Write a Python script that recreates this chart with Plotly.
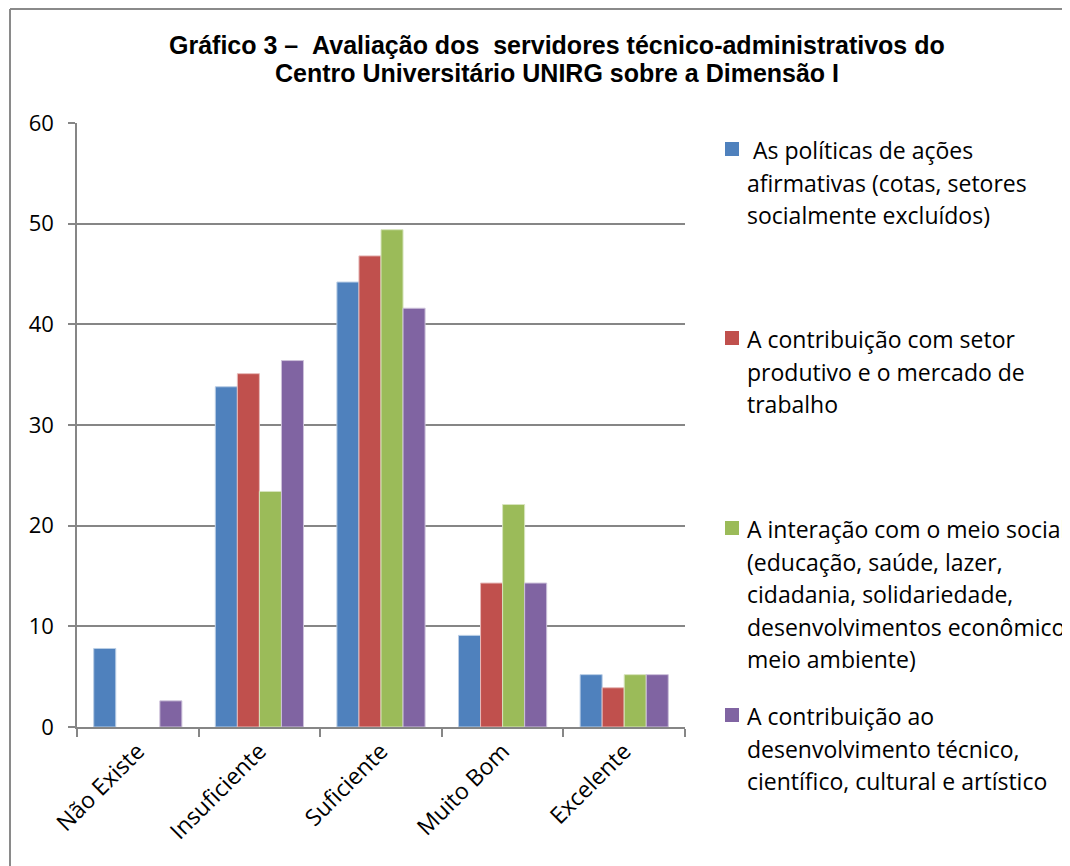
import plotly.graph_objects as go

categories = ["Não Existe", "Insuficiente", "Suficiente", "Muito Bom", "Excelente"]

series_names = [
    " As políticas de ações afirmativas (cotas, setores socialmente excluídos)",
    "A contribuição com setor produtivo e o mercado de trabalho",
    "A interação com o meio social (educação, saúde, lazer, cidadania, solidariedade, desenvolvimentos econômico, meio ambiente)",
    "A contribuição ao desenvolvimento técnico, científico, cultural e artístico",
]
legend_lines = [
    [" As políticas de ações", "afirmativas (cotas, setores", "socialmente excluídos)"],
    ["A contribuição com setor", "produtivo e o mercado de", "trabalho"],
    ["A interação com o meio social", "(educação, saúde, lazer,", "cidadania, solidariedade,",
     "desenvolvimentos econômico,", "meio ambiente)"],
    ["A contribuição ao", "desenvolvimento técnico,", "científico, cultural e artístico"],
]

politicas = [7.8, 33.8, 44.2, 9.1, 5.2]
setor_produtivo = [0, 35.1, 46.8, 14.3, 3.9]
meio_social = [0, 23.4, 49.4, 22.1, 5.2]
desenvolvimento = [2.6, 36.4, 41.6, 14.3, 5.2]
values = [politicas, setor_produtivo, meio_social, desenvolvimento]

colors = ["#4F81BD", "#C0504D", "#9BBB59", "#8064A2"]
edge_colors = ["#B9CDE5", "#E6B9B8", "#D7E4BD", "#CCC1DA"]

y_ticks = [0, 10, 20, 30, 40, 50, 60]

title_lines = ["Gráfico 3 –  Avaliação dos  servidores técnico-administrativos do",
               "Centro Universitário UNIRG sobre a Dimensão I"]

# page offset (default body margin of the html page)
OFF = 8
W, H = 1070 - OFF, 866 - OFF
L, R, T, B = 77 - OFF, 685 - OFF, 123 - OFF, 727 - OFF
FONT = "Open Sans"

fig = go.Figure()
for name, vals, c, ec in zip(series_names, values, colors, edge_colors):
    fig.add_trace(go.Bar(
        x=categories, y=vals, name=name,
        marker=dict(color=c, line=dict(color=ec, width=[1 if v else 0 for v in vals])),
        showlegend=False,
    ))

def px_x(page_px):
    return (page_px - OFF - L) / (R - L)

def px_y(page_py):
    return (B - (page_py - OFF)) / (B - T)

annotations = []
shapes = []
first_line_y = [149, 338, 528, 715]
line_step = 32.5
for i, (lines, c) in enumerate(zip(legend_lines, colors)):
    y0 = first_line_y[i]
    shapes.append(dict(type="rect", xref="paper", yref="paper",
                       x0=px_x(725), x1=px_x(739),
                       y0=px_y(y0 - 7), y1=px_y(y0 + 7),
                       fillcolor=c, line=dict(width=0)))
    for j, ln in enumerate(lines):
        annotations.append(dict(
            text=ln.replace(" ", "&nbsp;", 1) if ln.startswith(" ") else ln,
            xref="paper", yref="paper",
            x=px_x(745), y=px_y(y0 + 1 + j * line_step),
            xanchor="left", yanchor="middle", showarrow=False,
            font=dict(family=FONT, size=23, color="#000000"),
        ))

for k, tl in enumerate(title_lines):
    annotations.append(dict(
        text="<b>" + tl.replace("  ", " &nbsp;") + "</b>", xref="paper", yref="paper",
        x=px_x(557), y=px_y(45 + 28 * k),
        xanchor="center", yanchor="middle", showarrow=False,
        font=dict(family="Liberation Sans, Arial", size=25, color="#000000"),
    ))

# outer chart border (left and top edges visible)
shapes.append(dict(type="line", xref="paper", yref="paper",
                   x0=px_x(10), x1=px_x(10), y0=px_y(9), y1=px_y(880),
                   line=dict(color="#8A8A8A", width=2)))
shapes.append(dict(type="line", xref="paper", yref="paper",
                   x0=px_x(10), x1=px_x(1090), y0=px_y(9), y1=px_y(9),
                   line=dict(color="#8A8A8A", width=2)))

fig.update_layout(
    width=W, height=H,
    margin=dict(l=L, r=W - R, t=T, b=H - B, pad=0),
    paper_bgcolor="white", plot_bgcolor="white",
    barmode="group", bargap=0.275, bargroupgap=0,
    font=dict(family=FONT, size=22, color="#000000"),
    annotations=annotations, shapes=shapes,
    xaxis=dict(
        type="category", tickangle=-45, tickson="boundaries",
        ticks="outside", ticklen=8, tickcolor="#868686", tickwidth=1.5,
        showline=True, linecolor="#868686", linewidth=1.5,
        showgrid=False, tickfont=dict(family=FONT, size=23),
    ),
    yaxis=dict(
        range=[0, 60], tickvals=y_ticks, ticks="outside", ticklen=7,
        tickcolor="#868686", tickwidth=1.5,
        showline=True, linecolor="#868686", linewidth=1.5,
        showgrid=True, gridcolor="#868686", gridwidth=1.5,
        zeroline=False, tickfont=dict(family=FONT, size=22),
        ticklabelstandoff=10,
    ),
)

fig.write_html("out.html")
